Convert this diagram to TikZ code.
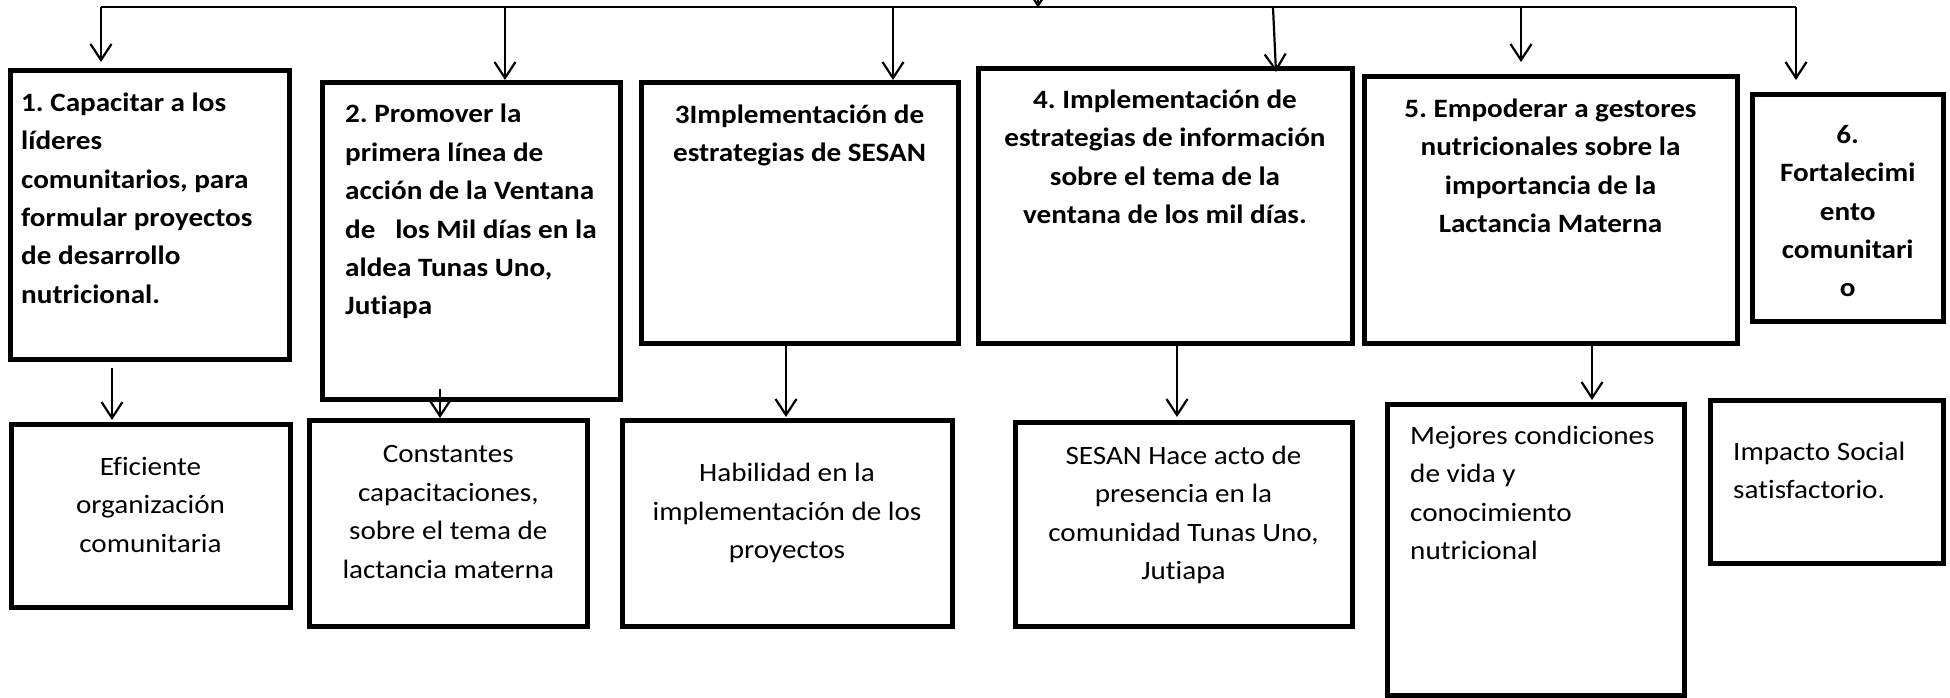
\documentclass[tikz,border=0pt]{standalone}
\usepackage{fontspec}
\setmainfont[FakeStretch=1.1,Ligatures={NoCommon}]{Carlito}
\usetikzlibrary{arrows.meta}
\frenchspacing
\newcommand\fst{\rule{0pt}{22pt}}
\tikzset{
  box/.style={draw=black, line width=5pt, inner sep=0pt, fill=none},
  hd/.style={inner sep=0pt, font=\fontsize{26.5pt}{38.4pt}\selectfont\bfseries},
  bd/.style={inner sep=0pt, font=\fontsize{26.5pt}{38.4pt}\selectfont},
  conn/.style={line width=2pt},
  arr/.style={line width=2.2pt, -{Straight Barb[length=16pt,width=21pt]}},
}
\begin{document}
\begin{tikzpicture}[x=1pt,y=-1pt]
\useasboundingbox (0,0) rectangle (1950,698);
% top row boxes
\node[box, minimum width=279pt, minimum height=288.6pt] (b1) at (150.3,215) {};
\node[box, minimum width=297.4pt, minimum height=316.3pt] (b2) at (471.3,240.9) {};
\node[box, minimum width=317pt, minimum height=260pt] (b3) at (799.5,213) {};
\node[box, minimum width=374pt, minimum height=275pt] (b4) at (1165,205.7) {};
\node[box, minimum width=373pt, minimum height=266.3pt] (b5) at (1550.5,209.9) {};
\node[box, minimum width=191.4pt, minimum height=227.4pt] (b6) at (1847.7,208) {};
% bottom row boxes
\node[box, minimum width=279pt, minimum height=183.7pt] (r1) at (150.5,515.9) {};
\node[box, minimum width=278.5pt, minimum height=206pt] (r2) at (448.3,523) {};
\node[box, minimum width=330pt, minimum height=206pt] (r3) at (787,523.3) {};
\node[box, minimum width=337pt, minimum height=204pt] (r4) at (1183.5,524.7) {};
\node[box, minimum width=297pt, minimum height=291pt] (r5) at (1535.5,549.5) {};
\node[box, minimum width=232.4pt, minimum height=162.3pt] (r6) at (1827,481.9) {};
% texts top
\node[hd, anchor=north west, align=left] (t1) at (21,89) {\fst1. Capacitar a los\\líderes\\comunitarios, para\\formular proyectos\\de desarrollo\\nutricional.};
\node[hd, anchor=north west, align=left] (t2) at (345,100.7) {\fst2. Promover la\\primera línea de\\acción de la Ventana\\de\ \ \ los Mil días en la\\aldea Tunas Uno,\\Jutiapa};
\node[hd, anchor=north, align=center] (t3) at (799.5,101) {\fst3Implementación de\\estrategias de SESAN};
\node[hd, anchor=north, align=center] (t4) at (1165,86) {\fst4. Implementación de\\estrategias de información\\sobre el tema de la\\ventana de los mil días.};
\node[hd, anchor=north, align=center] (t5) at (1550.5,95) {\fst5. Empoderar a gestores\\nutricionales sobre la\\importancia de la\\Lactancia Materna};
\node[hd, anchor=north, align=center] (t6) at (1847.7,121) {\fst6.\\Fortalecimi\\ento\\comunitari\\o};
% texts bottom
\node[bd, anchor=north, align=center] (s1) at (150.5,453) {\fst Eficiente\\organización\\comunitaria};
\node[bd, anchor=north, align=center] (s2) at (448.3,440.7) {\fst Constantes\\capacitaciones,\\sobre el tema de\\lactancia materna};
\node[bd, anchor=north, align=center] (s3) at (787,459.7) {\fst Habilidad en la\\implementación de los\\proyectos};
\node[bd, anchor=north, align=center] (s4) at (1183.5,442) {\fst SESAN Hace acto de\\presencia en la\\comunidad Tunas Uno,\\Jutiapa};
\node[bd, anchor=north west, align=left] (s5) at (1410,422) {\fst Mejores condiciones\\de vida y\\conocimiento\\nutricional};
\node[bd, anchor=north west, align=left] (s6) at (1733,438) {\fst Impacto Social\\satisfactorio.};
% top distribution line
\coordinate (src) at (1038,-4);
\coordinate (hub) at (1038,7.5);
\coordinate (j1) at (101,7.5);
\coordinate (j2) at (505,7.5);
\coordinate (j3) at (893,7.5);
\coordinate (j4) at (1273,7.5);
\coordinate (j5) at (1521,7.5);
\coordinate (j6) at (1796,7.5);
\coordinate (e1) at (101,62);
\coordinate (e2) at (505,80);
\coordinate (e3) at (893,80);
\coordinate (e4) at (1276,72);
\coordinate (e5) at (1521,62);
\coordinate (e6) at (1796,80);
\draw[arr] (src) -- (hub);
\draw[conn] (j1) -- (j6);
\draw[arr] (j1) -- (e1);
\draw[arr] (j2) -- (e2);
\draw[arr] (j3) -- (e3);
\draw[arr] (j4) -- (e4);
\draw[arr] (j5) -- (e5);
\draw[arr] (j6) -- (e6);
% lower connectors
\coordinate (d1s) at (112,368);
\coordinate (d1e) at (112,420);
\coordinate (d2s) at (440,389);
\coordinate (d2e) at (440,418);
\coordinate (d3s) at (786,343);
\coordinate (d3e) at (786,417);
\coordinate (d4s) at (1177,343);
\coordinate (d4e) at (1177,417);
\coordinate (d5s) at (1592,343);
\coordinate (d5e) at (1592,400);
\draw[arr] (d1s) -- (d1e);
\draw[arr] (d2s) -- (d2e);
\draw[arr] (d3s) -- (d3e);
\draw[arr] (d4s) -- (d4e);
\draw[arr] (d5s) -- (d5e);
\end{tikzpicture}
\end{document}
